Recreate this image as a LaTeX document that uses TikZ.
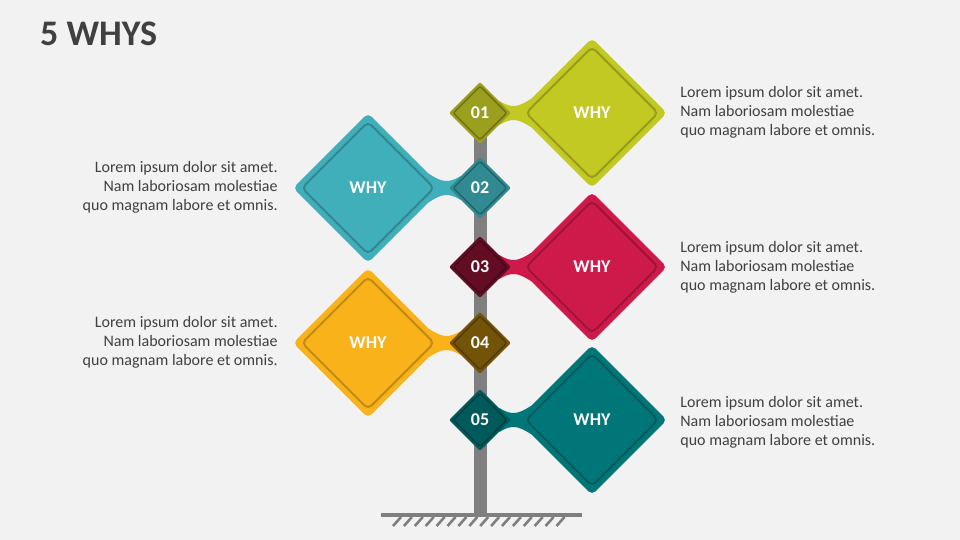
\documentclass[tikz,border=0pt]{standalone}
\usepackage{fontspec}
\setmainfont{Carlito}
\usetikzlibrary{shapes.geometric,calc}
\pgfdeclarelayer{bg}
\pgfsetlayers{bg,main}
\definecolor{bgc}{HTML}{F2F2F2}
\definecolor{txt}{HTML}{404040}
\definecolor{polec}{HTML}{7F7F7F}
\definecolor{cA}{HTML}{C2C922}\definecolor{dA}{HTML}{9A9F1D}
\definecolor{cB}{HTML}{40AFB9}\definecolor{dB}{HTML}{318A91}
\definecolor{cC}{HTML}{CD1A4A}\definecolor{dC}{HTML}{620D24}
\definecolor{cD}{HTML}{F9B21A}\definecolor{dD}{HTML}{735308}
\definecolor{cE}{HTML}{007678}\definecolor{dE}{HTML}{005A5C}
\newcommand{\neckR}[3]{\fill[#3] ($(#1.east)+(-12,-12)$) .. controls ($(#1.east)+(0,-5)$) and ($(#2.west)+(0,-5)$) .. ($(#2.west)+(14,-14)$) -- ($(#2.west)+(14,14)$) .. controls ($(#2.west)+(0,5)$) and ($(#1.east)+(0,5)$) .. ($(#1.east)+(-12,12)$) -- cycle;}
\newcommand{\neckL}[3]{\fill[#3] ($(#1.west)+(12,-12)$) .. controls ($(#1.west)+(0,-5)$) and ($(#2.east)+(0,-5)$) .. ($(#2.east)+(-14,-14)$) -- ($(#2.east)+(-14,14)$) .. controls ($(#2.east)+(0,5)$) and ($(#1.west)+(0,5)$) .. ($(#1.west)+(12,12)$) -- cycle;}
\begin{document}
\begin{tikzpicture}[x=1pt,y=-1pt,
  bigd/.style={diamond, aspect=1, minimum width=150pt, minimum height=150pt, inner sep=0pt, rounded corners=5pt, font=\bfseries\fontsize{18}{18}\selectfont, text=white, text height=11pt, text depth=0pt},
  bigin/.style={diamond, aspect=1, minimum width=133pt, minimum height=133pt, inner sep=0pt, rounded corners=5pt, draw=black, draw opacity=0.22, line width=2pt},
  smalld/.style={diamond, aspect=1, minimum width=62pt, minimum height=62pt, inner sep=0pt, rounded corners=2pt, font=\bfseries\fontsize{18}{18}\selectfont, text=white, text height=11pt, text depth=0pt},
  smallin/.style={diamond, aspect=1, minimum width=54pt, minimum height=54pt, inner sep=0pt, rounded corners=2pt, draw=black, draw opacity=0.28, line width=1.5pt},
  desc/.style={font=\fontsize{16}{19}\selectfont, text=txt, inner sep=0pt},
  polestyle/.style={draw=polec, line width=13pt},
  groundline/.style={draw=polec, line width=4pt},
  hatch/.style={draw=polec, line width=2.6pt}]
\begin{pgfonlayer}{bg}
\fill[bgc] (0,0) rectangle (960,540);
\end{pgfonlayer}
\useasboundingbox (0,0) rectangle (960,540);
\node[anchor=base west, font=\bfseries\fontsize{36}{36}\selectfont, text=txt, inner sep=0pt] (title) at (40,46) {5 WHYS};
% big diamonds
\node[bigd, fill=cA] (b1) at (592,113) {WHY};
\node[bigd, fill=cB] (b2) at (368,188) {WHY};
\node[bigd, fill=cC] (b3) at (592,267) {WHY};
\node[bigd, fill=cD] (b4) at (368,343) {WHY};
\node[bigd, fill=cE] (b5) at (592,420) {WHY};
\foreach \n in {1,...,5}{\node[bigin] (b\n i) at (b\n.center) {};}
% small diamonds
\node[smalld, fill=dA] (s1) at (480,113) {01};
\node[smalld, fill=dB] (s2) at (480,188) {02};
\node[smalld, fill=dC] (s3) at (480,267) {03};
\node[smalld, fill=dD] (s4) at (480,343) {04};
\node[smalld, fill=dE] (s5) at (480,420) {05};
\foreach \n in {1,...,5}{\node[smallin] (s\n i) at (s\n.center) {};}
% ground
\coordinate (gl) at (381,515);
\coordinate (gr) at (582,515);
\draw[groundline] (gl) -- (gr);
\foreach \i in {0,...,15}{\draw[hatch] ($(gl)+(12+\i*10.9,11)$) -- ++(8,-9);}
\begin{pgfonlayer}{bg}
\draw[polestyle] (s1.center) -- (s1.center |- gl);
\neckR{s1}{b1}{cA}
\neckL{s2}{b2}{cB}
\neckR{s3}{b3}{cC}
\neckL{s4}{b4}{cD}
\neckR{s5}{b5}{cE}
\end{pgfonlayer}
% texts
\node[desc, anchor=west, align=left] (t1) at ($(b1.east)+(13,-1)$) {Lorem ipsum dolor sit amet.\\Nam laboriosam molestiae\\quo magnam labore et omnis.};
\node[desc, anchor=east, align=right] (t2) at ($(b2.west)+(-15,-1)$) {Lorem ipsum dolor sit amet.\\Nam laboriosam molestiae\\quo magnam labore et omnis.};
\node[desc, anchor=west, align=left] (t3) at ($(b3.east)+(13,0)$) {Lorem ipsum dolor sit amet.\\Nam laboriosam molestiae\\quo magnam labore et omnis.};
\node[desc, anchor=east, align=right] (t4) at ($(b4.west)+(-15,-1)$) {Lorem ipsum dolor sit amet.\\Nam laboriosam molestiae\\quo magnam labore et omnis.};
\node[desc, anchor=west, align=left] (t5) at ($(b5.east)+(13,2)$) {Lorem ipsum dolor sit amet.\\Nam laboriosam molestiae\\quo magnam labore et omnis.};
\end{tikzpicture}
\end{document}
